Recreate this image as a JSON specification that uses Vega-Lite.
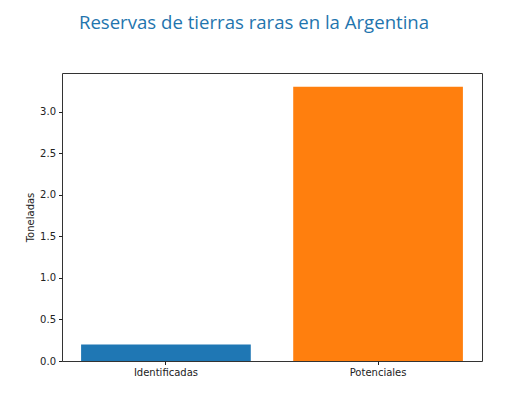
{
  "$schema": "https://vega.github.io/schema/vega-lite/v6.json",
  "autosize": "none",
  "width": 420,
  "height": 288,
  "padding": {"left": 62, "top": 73, "right": 39, "bottom": 32},
  "background": "white",
  "title": {
    "text": "Reservas de tierras raras en la Argentina",
    "font": "Open Sans",
    "fontSize": 18.6,
    "fontWeight": "normal",
    "color": "#1f75ae",
    "anchor": "middle",
    "dx": -18,
    "offset": 40
  },
  "data": {
    "values": [
      {"categoria": "Identificadas", "toneladas": 0.2},
      {"categoria": "Potenciales", "toneladas": 3.3}
    ]
  },
  "mark": {"type": "bar"},
  "encoding": {
    "x": {
      "field": "categoria",
      "type": "nominal",
      "sort": null,
      "scale": {"paddingInner": 0.2, "paddingOuter": 0.09},
      "axis": {
        "title": null,
        "labelAngle": 0,
        "labelFont": "DejaVu Sans",
        "labelFontSize": 10,
        "labelColor": "#222",
        "tickColor": "#222",
        "tickSize": 3.5,
        "labelPadding": 3,
        "domain": false
      }
    },
    "y": {
      "field": "toneladas",
      "type": "quantitative",
      "scale": {"domain": [0, 3.465], "nice": false},
      "axis": {
        "title": "Toneladas",
        "titleFont": "DejaVu Sans",
        "titleFontSize": 10,
        "titleFontWeight": "normal",
        "titleColor": "#222",
        "titlePadding": 4,
        "values": [0, 0.5, 1, 1.5, 2, 2.5, 3],
        "format": ".1f",
        "labelFont": "DejaVu Sans",
        "labelFontSize": 10,
        "labelColor": "#222",
        "tickColor": "#222",
        "tickSize": 3.5,
        "labelPadding": 3,
        "grid": false,
        "domain": false
      }
    },
    "color": {
      "field": "categoria",
      "type": "nominal",
      "scale": {"domain": ["Identificadas", "Potenciales"], "range": ["#1f77b4", "#ff7f0e"]},
      "legend": null
    }
  },
  "config": {
    "view": {"stroke": "#333", "strokeWidth": 1}
  }
}
